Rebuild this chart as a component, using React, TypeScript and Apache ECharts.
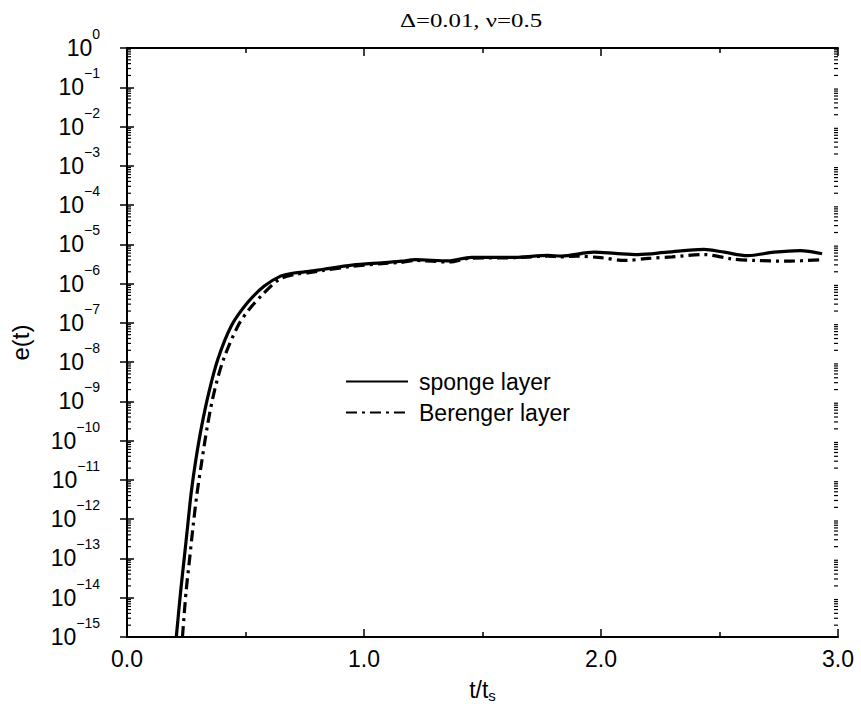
import React, { useEffect, useRef } from "react";
import * as echarts from "echarts";

const titleText = "Δ=0.01, ν=0.5";
const xName = "t/t";
const xNameSub = "s";
const yName = "e(t)";
const seriesNames = ["sponge layer", "Berenger layer"];

const spongeT = [0.208, 0.226, 0.241, 0.256, 0.271, 0.291, 0.315, 0.345, 0.383, 0.44, 0.508, 0.578, 0.648, 0.705, 0.768, 0.824, 0.95, 1.076, 1.16, 1.216, 1.356, 1.454, 1.636, 1.776, 1.832, 1.971, 2.06, 2.155, 2.28, 2.433, 2.52, 2.618, 2.73, 2.84, 2.933];
const spongeE = [1.0e-15, 1.38e-14, 9.55e-14, 6.76e-13, 4.79e-12, 3.39e-11, 2.34e-10, 1.66e-9, 1.17e-8, 8.32e-8, 3.24e-7, 8.51e-7, 1.55e-6, 1.86e-6, 2.04e-6, 2.29e-6, 2.95e-6, 3.39e-6, 3.72e-6, 4.07e-6, 3.8e-6, 4.68e-6, 4.68e-6, 5.25e-6, 5.01e-6, 6.31e-6, 5.89e-6, 5.5e-6, 6.31e-6, 7.41e-6, 6.31e-6, 5.13e-6, 6.31e-6, 6.92e-6, 5.75e-6];

const berengerT = [0.234, 0.249, 0.264, 0.279, 0.296, 0.317, 0.339, 0.367, 0.407, 0.468, 0.515, 0.578, 0.641, 0.705, 0.768, 0.824, 0.95, 1.076, 1.16, 1.216, 1.356, 1.454, 1.636, 1.776, 1.832, 1.9, 2.0, 2.1, 2.2, 2.3, 2.433, 2.55, 2.65, 2.78, 2.93];
const berengerE = [1.0e-15, 1.38e-14, 9.55e-14, 6.76e-13, 4.79e-12, 3.39e-11, 2.34e-10, 1.66e-9, 1.17e-8, 8.32e-8, 2.19e-7, 5.75e-7, 1.26e-6, 1.7e-6, 1.91e-6, 2.14e-6, 2.75e-6, 3.24e-6, 3.47e-6, 3.89e-6, 3.55e-6, 4.47e-6, 4.57e-6, 5.01e-6, 4.79e-6, 5.01e-6, 4.57e-6, 3.89e-6, 4.37e-6, 4.79e-6, 5.5e-6, 4.27e-6, 3.89e-6, 3.72e-6, 4.07e-6];

const xMin = 0;
const xMax = 3;
const yMin = 1e-15;
const yMax = 1;
const decadeExponents = [-15, -14, -13, -12, -11, -10, -9, -8, -7, -6, -5, -4, -3, -2, -1];
const minorMultipliers = [2, 3, 4, 5, 6, 7, 8, 9];

const FONT = "Liberation Sans";

export default function App() {
  const ref = useRef<HTMLDivElement>(null);
  useEffect(() => {
    if (!ref.current) return;
    const chart = echarts.init(ref.current, null, { renderer: "svg" });

    const minorData: number[][] = [];
    decadeExponents.forEach((e) => {
      minorMultipliers.forEach((m) => {
        minorData.push([xMin, m * Math.pow(10, e)]);
      });
    });

    const yLabel = (v: number) => {
      const e = Math.round(Math.log10(v));
      const s = e < 0 ? "\u2212" + -e : String(e);
      return `{b|10}{s|${s}}`;
    };

    const axisLineStyle = { show: true, lineStyle: { color: "#000", width: 2 } };

    const option: any = {
      animation: false,
      backgroundColor: "#fff",
      graphic: [
        {
          type: "text",
          x: 471,
          y: 21,
          scaleX: 1.38,
          style: {
            text: titleText,
            fontFamily: "Liberation Serif",
            fontSize: 18,
            fill: "#000",
            align: "center",
            verticalAlign: "middle",
          },
        },
      ],
      grid: { left: 124, right: 23, top: 48, bottom: 70 },
      legend: {
        data: seriesNames,
        orient: "vertical",
        left: 345,
        top: 370,
        itemWidth: 62,
        itemHeight: 22,
        itemGap: 8,
        padding: 0,
        itemStyle: { opacity: 0 },
        textStyle: { fontFamily: FONT, fontSize: 23, color: "#000", padding: [0, 0, 0, 6] },
      },
      xAxis: [
        {
          type: "value",
          position: "bottom",
          min: xMin,
          max: xMax,
          interval: 1,
          axisLine: axisLineStyle,
          axisTick: { show: true, inside: true, length: 8, lineStyle: { color: "#000", width: 1.5 } },
          minorTick: { show: true, splitNumber: 2, length: 5, lineStyle: { color: "#000", width: 1.5 } },
          splitLine: { show: false },
          minorSplitLine: { show: false },
          axisLabel: {
            formatter: (v: number) => v.toFixed(1),
            fontFamily: FONT,
            fontSize: 23,
            color: "#000",
            margin: 10,
          },
          name: `{a|${xName}}{s|${xNameSub}}`,
          nameLocation: "middle",
          nameGap: 40,
          nameTextStyle: {
            rich: {
              a: { fontFamily: FONT, fontSize: 23, color: "#000", lineHeight: 26 },
              s: { fontFamily: FONT, fontSize: 15, color: "#000", lineHeight: 26, verticalAlign: "bottom", padding: [12, 0, 0, 0] },
            },
          },
        },
        {
          type: "value",
          position: "top",
          min: xMin,
          max: xMax,
          interval: 1,
          axisLine: axisLineStyle,
          axisTick: { show: true, inside: true, length: 8, lineStyle: { color: "#000", width: 1.5 } },
          minorTick: { show: true, splitNumber: 2, length: 5, lineStyle: { color: "#000", width: 1.5 } },
          splitLine: { show: false },
          axisLabel: { show: false },
        },
      ],
      yAxis: [
        {
          type: "log",
          logBase: 10,
          position: "left",
          min: yMin,
          max: yMax,
          interval: 1,
          axisLine: axisLineStyle,
          axisTick: { show: true, inside: true, length: 7, lineStyle: { color: "#000", width: 1.5 } },
          splitLine: { show: false },
          axisLabel: {
            formatter: yLabel,
            margin: 27,
            align: "right",
            rich: {
              b: { fontFamily: FONT, fontSize: 23, color: "#000", lineHeight: 42 },
              s: { fontFamily: FONT, fontSize: 14, color: "#000", lineHeight: 18, verticalAlign: "top" },
            },
          },
          name: yName,
          nameLocation: "middle",
          nameGap: 95,
          nameRotate: 90,
          nameTextStyle: { fontFamily: FONT, fontSize: 24, color: "#000" },
        },
        {
          type: "log",
          logBase: 10,
          position: "right",
          min: yMin,
          max: yMax,
          interval: 1,
          axisLine: axisLineStyle,
          axisTick: { show: true, inside: true, length: 7, lineStyle: { color: "#000", width: 1.5 } },
          splitLine: { show: false },
          axisLabel: { show: false },
        },
      ],
      series: [
        {
          name: seriesNames[0],
          type: "line",
          xAxisIndex: 0,
          yAxisIndex: 0,
          data: spongeT.map((t, i) => [t, spongeE[i]]),
          symbol: "none",
          smooth: 0.3,
          lineStyle: { color: "#000", width: 3.2, type: "solid" },
          itemStyle: { color: "#000" },
        },
        {
          name: seriesNames[1],
          type: "line",
          xAxisIndex: 0,
          yAxisIndex: 0,
          data: berengerT.map((t, i) => [t, berengerE[i]]),
          symbol: "none",
          smooth: 0.3,
          lineStyle: { color: "#000", width: 3.2, type: [11, 5, 3, 5] },
          itemStyle: { color: "#000" },
        },
        {
          type: "custom",
          xAxisIndex: 0,
          yAxisIndex: 0,
          silent: true,
          clip: false,
          z: 5,
          data: minorData,
          encode: { x: 0, y: 1 },
          renderItem: (params: any, api: any) => {
            const v = api.value(1);
            const l = api.coord([xMin, v]);
            const r = api.coord([xMax, v]);
            const st = { stroke: "#000", lineWidth: 1.2 };
            return {
              type: "group",
              children: [
                { type: "line", shape: { x1: l[0], y1: l[1], x2: l[0] + 4, y2: l[1] }, style: st },
                { type: "line", shape: { x1: r[0], y1: r[1], x2: r[0] - 4, y2: r[1] }, style: st },
              ],
            };
          },
        },
      ],
    };
    chart.setOption(option);
    return () => chart.dispose();
  }, []);
  return <div ref={ref} style={{ position: "fixed", left: 0, top: 0, width: 861, height: 708, background: "#fff" }} />;
}
